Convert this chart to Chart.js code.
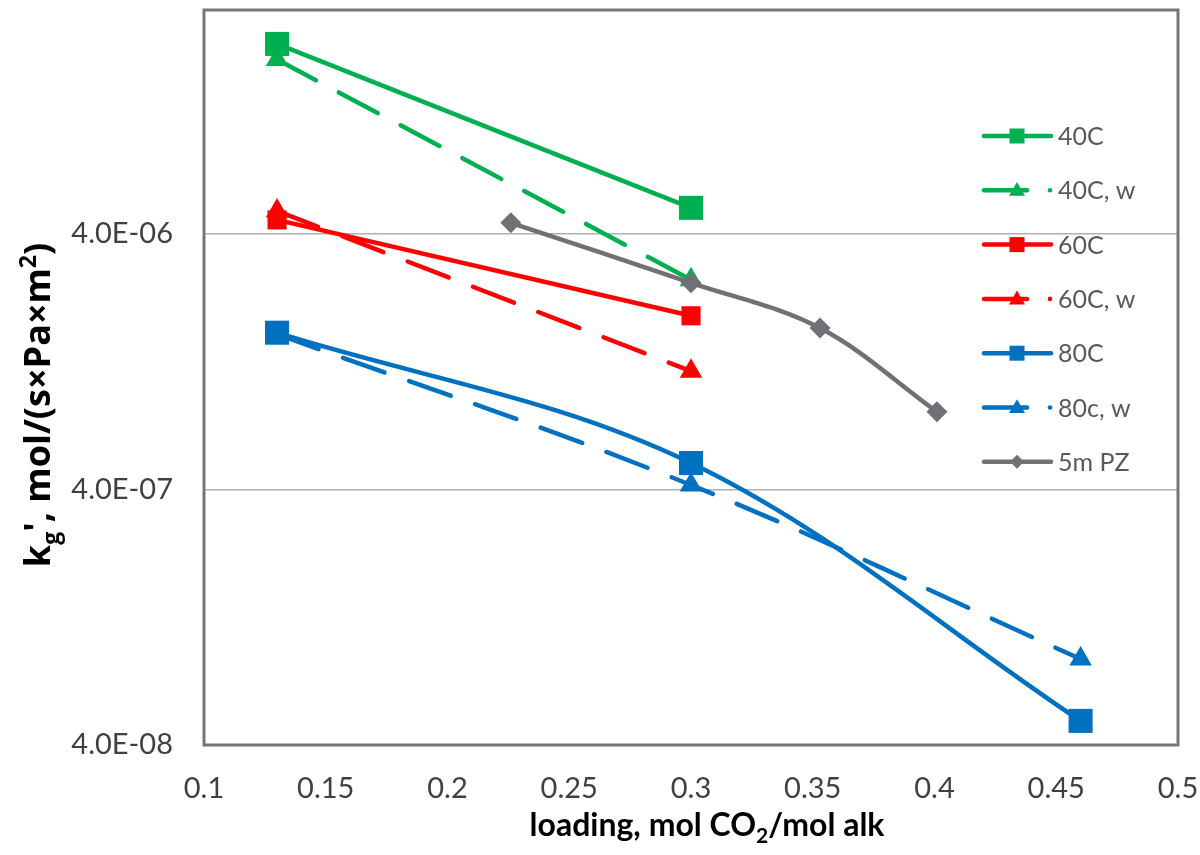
<!DOCTYPE html>
<html>
<head>
<meta charset="utf-8">
<script src="https://cdn.jsdelivr.net/npm/chart.js@4/dist/chart.umd.min.js"></script>
<style>
  body { margin: 0; background: #fff; }
  canvas { display: block; }
</style>
</head>
<body>
<canvas id="kgChart" width="1200" height="855"></canvas>
<script>
// loading values, mol CO2/mol alk
const loading40 = [0.13, 0.30];
const loading60 = [0.13, 0.30];
const loading80 = [0.13, 0.30, 0.46];
const loadingPZ = [0.226, 0.30, 0.353, 0.401];

// kg' values, mol/(s*Pa*m2)
const kg40 = [2.21e-5, 5.05e-6];
const kg40w = [1.92e-5, 2.64e-6];
const kg60 = [4.53e-6, 1.91e-6];
const kg60w = [4.91e-6, 1.16e-6];
const kg80 = [1.64e-6, 5.07e-7, 4.97e-8];
const kg80w = [1.62e-6, 4.16e-7, 8.68e-8];
const kgPZ = [4.41e-6, 2.57e-6, 1.71e-6, 8.04e-7];

const seriesLabels = ['40C', '40C, w', '60C', '60C, w', '80C', '80c, w', '5m PZ'];
const xTicks = { min: 0.1, max: 0.5, step: 0.05 };
const yTicks = [4e-8, 4e-7, 4e-6];
const yRange = { min: 4e-8, max: 3e-5 };

const GREEN = '#00B050';
const RED = '#FF0000';
const BLUE = '#0070C0';
const GRAY = '#717175';
const FONT = 'Lato, "Open Sans", sans-serif';

const toPoints = (xs, ys) => xs.map((x, i) => ({ x: x, y: ys[i] }));

function makeSeries(label, xs, ys, color, style, opts) {
    const dashed = opts.dashed;
    return {
        label: label,
        data: toPoints(xs, ys),
        borderColor: color,
        backgroundColor: color,
        borderWidth: 4.5,
        borderDash: dashed ? [44, 26] : [],
        borderCapStyle: 'round',
        borderJoinStyle: 'round',
        pointStyle: style,
        pointRadius: opts.radius,
        pointHoverRadius: opts.radius,
        pointBorderWidth: 0,
        pointBackgroundColor: color,
        tension: opts.smooth ? 0.35 : 0,
        order: opts.order,
        clip: false,
        legendSize: opts.legendSize
    };
}

function formatSci(v) {
    const [m, e] = v.toExponential(1).split('e');
    const exp = parseInt(e, 10);
    const sign = exp < 0 ? '-' : '+';
    return m + 'E' + sign + String(Math.abs(exp)).padStart(2, '0');
}

// plot frame drawn on all four sides
const framePlugin = {
    id: 'frame',
    beforeDatasetsDraw(chart) {
        const { ctx, chartArea: a } = chart;
        ctx.save();
        ctx.strokeStyle = '#767676';
        ctx.lineWidth = 3;
        ctx.strokeRect(a.left, a.top, a.right - a.left, a.bottom - a.top);
        ctx.restore();
    }
};

function drawMarker(ctx, style, x, y, s) {
    ctx.beginPath();
    if (style === 'rect') {
        ctx.rect(x - s / 2, y - s / 2, s, s);
    } else if (style === 'triangle') {
        const h = s * 0.87;
        ctx.moveTo(x, y - h * 0.6);
        ctx.lineTo(x + s / 2, y + h * 0.4);
        ctx.lineTo(x - s / 2, y + h * 0.4);
        ctx.closePath();
    } else {
        ctx.moveTo(x, y - s / 2);
        ctx.lineTo(x + s / 2, y);
        ctx.lineTo(x, y + s / 2);
        ctx.lineTo(x - s / 2, y);
        ctx.closePath();
    }
    ctx.fill();
}

// Excel-like legend, line sample + marker
const legendPlugin = {
    id: 'sideLegend',
    afterDatasetsDraw(chart) {
        const ctx = chart.ctx;
        ctx.save();
        chart.data.datasets.forEach((ds, i) => {
            const y = 136 + i * 54.3;
            ctx.strokeStyle = ds.borderColor;
            ctx.fillStyle = ds.borderColor;
            ctx.lineWidth = 4.5;
            ctx.lineCap = 'round';
            ctx.setLineDash([]);
            ctx.beginPath();
            if (ds.borderDash.length) {
                ctx.moveTo(984, y);
                ctx.lineTo(1027, y);
                ctx.stroke();
                ctx.beginPath();
                ctx.arc(1050, y, 2.3, 0, Math.PI * 2);
                ctx.fill();
            } else {
                ctx.moveTo(984, y);
                ctx.lineTo(1051, y);
                ctx.stroke();
            }
            drawMarker(ctx, ds.pointStyle, 1017, y, ds.legendSize);
            ctx.fillStyle = '#595959';
            ctx.font = '25px ' + FONT;
            ctx.textAlign = 'left';
            ctx.textBaseline = 'middle';
            ctx.fillText(ds.label, 1058, y + 1);
        });
        ctx.restore();
    }
};

function drawRuns(ctx, runs) {
    let total = 0;
    runs.forEach(r => { ctx.font = r.font; r.w = ctx.measureText(r.text).width; total += r.w; });
    let x = -total / 2;
    runs.forEach(r => {
        ctx.font = r.font;
        ctx.fillText(r.text, x, r.dy || 0);
        x += r.w;
    });
}

// axis titles with sub/superscripts
const titlePlugin = {
    id: 'axisTitles',
    afterDraw(chart) {
        const ctx = chart.ctx;
        ctx.save();
        ctx.fillStyle = '#000';
        ctx.textAlign = 'left';
        ctx.textBaseline = 'alphabetic';
        ctx.translate(707, 836);
        drawRuns(ctx, [
            { text: 'loading, mol CO', font: 'bold 32px ' + FONT },
            { text: '2', font: 'bold 21px ' + FONT, dy: 7 },
            { text: '/mol alk', font: 'bold 32px ' + FONT }
        ]);
        ctx.restore();

        const yFont = '"Open Sans", Lato, sans-serif';
        ctx.save();
        ctx.fillStyle = '#000';
        ctx.textAlign = 'left';
        ctx.textBaseline = 'alphabetic';
        ctx.translate(50, 405);
        ctx.rotate(-Math.PI / 2);
        drawRuns(ctx, [
            { text: 'k', font: 'bold 36px ' + yFont },
            { text: 'g', font: 'bold 23px ' + yFont, dy: 9 },
            { text: "', mol/(s×Pa×m", font: 'bold 36px ' + yFont },
            { text: '2', font: 'bold 23px ' + yFont, dy: -14 },
            { text: ')', font: 'bold 36px ' + yFont }
        ]);
        ctx.restore();
    }
};

const datasets = [
    makeSeries(seriesLabels[0], loading40, kg40, GREEN, 'rect', { radius: 17, order: 1, legendSize: 15 }),
    makeSeries(seriesLabels[1], loading40, kg40w, GREEN, 'triangle', { dashed: true, radius: 13, order: 2, legendSize: 16 }),
    makeSeries(seriesLabels[2], loading60, kg60, RED, 'rect', { radius: 13.5, order: 1, legendSize: 15 }),
    makeSeries(seriesLabels[3], loading60, kg60w, RED, 'triangle', { dashed: true, radius: 13, order: 2, legendSize: 16 }),
    makeSeries(seriesLabels[4], loading80, kg80, BLUE, 'rect', { radius: 17, order: 1, smooth: true, legendSize: 15 }),
    makeSeries(seriesLabels[5], loading80, kg80w, BLUE, 'triangle', { dashed: true, radius: 13, order: 2, smooth: true, legendSize: 16 }),
    makeSeries(seriesLabels[6], loadingPZ, kgPZ, GRAY, 'rectRot', { radius: 10.5, order: 0, smooth: true, legendSize: 14 })
];

new Chart(document.getElementById('kgChart'), {
    type: 'line',
    data: { datasets: datasets },
    options: {
        responsive: false,
        animation: false,
        layout: { autoPadding: false, padding: { top: 10, right: 22, left: 0, bottom: 0 } },
        plugins: {
            legend: { display: false },
            tooltip: { enabled: false }
        },
        scales: {
            x: {
                type: 'linear',
                min: xTicks.min,
                max: xTicks.max,
                afterFit: scale => {
                    scale.height = 110;
                    scale.paddingLeft = 0;
                    scale.paddingRight = 0;
                },
                grid: { display: false, drawTicks: false },
                border: { display: false },
                ticks: {
                    stepSize: xTicks.step,
                    padding: 26,
                    color: '#404040',
                    font: { family: FONT, size: 29 },
                    callback: v => String(Number(v.toFixed(2)))
                }
            },
            y: {
                type: 'logarithmic',
                min: yRange.min,
                max: yRange.max,
                afterFit: scale => {
                    scale.width = 204;
                    scale.paddingTop = 0;
                    scale.paddingBottom = 0;
                },
                afterBuildTicks: scale => { scale.ticks = yTicks.map(v => ({ value: v })); },
                grid: {
                    drawTicks: false,
                    lineWidth: 1.5,
                    color: c => (c.tick && c.tick.value === yTicks[0]) ? 'rgba(0,0,0,0)' : '#b0b0b0'
                },
                border: { display: false },
                ticks: {
                    padding: 31,
                    color: '#404040',
                    font: { family: FONT, size: 29 },
                    callback: v => formatSci(v)
                }
            }
        }
    },
    plugins: [framePlugin, legendPlugin, titlePlugin]
});
</script>
</body>
</html>
